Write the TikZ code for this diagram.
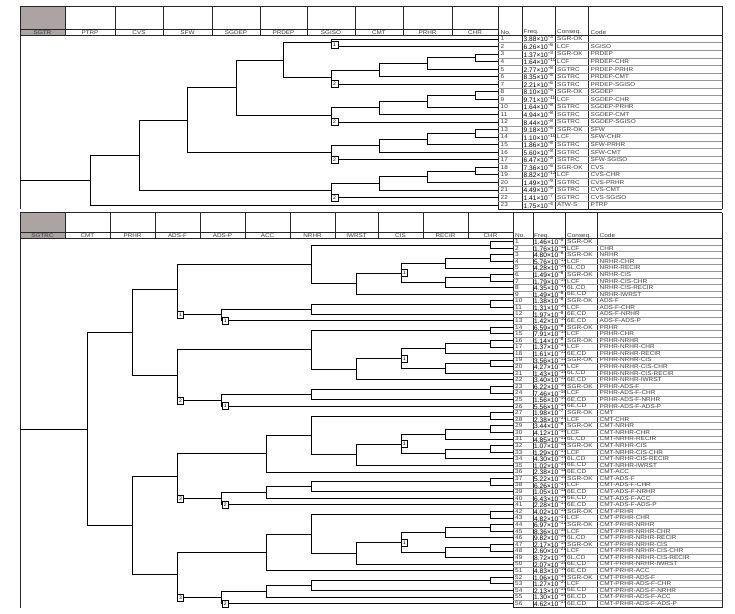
\documentclass[tikz,border=0pt]{standalone}
\usepackage{fontspec}
\setmainfont{Liberation Sans}
\newfontfamily\smf[FakeStretch=1.15]{Liberation Sans}
\definecolor{hdgrey}{RGB}{172,163,163}
\definecolor{labc}{RGB}{60,60,60}
\definecolor{rowc}{RGB}{150,150,150}
\newcommand\tbr[5]{\draw[tree] (#4,{ty(#2)}) -| (#1,{ty(#3)}) -- (#5,{ty(#3)});}
\newcommand\tsub[1]{%
 \tbr{331}{#1+2.125}{#1+4}{379}{498}%
 \tbr{379}{#1+1.25}{#1+3}{427.5}{498}%
 \tbr{427.5}{#1+0.5}{#1+2}{475}{498}%
 \tbr{475}{#1}{#1+1}{498}{498}%
 \node[tbox] (tb#1) at (334.5,{ty(#1+4)}) {2};}
\newcommand\bbr[5]{\draw[tree] (#4,{by(#2)}) -| (#1,{by(#3)}) -- (#5,{by(#3)});}
\newcommand\bchr[1]{\bbr{490.6}{#1}{#1+1}{513}{513}}
\newcommand\bnr[2]{%
 \bbr{356.2}{#1+2.75}{#1+6}{401}{513}%
 \bbr{401}{#1+1.25}{#1+4.25}{445.8}{445.8}%
 \bbr{445.8}{#1+0.5}{#1+2}{490.6}{513}%
 \bchr{#1}%
 \bbr{445.8}{#1+3.5}{#1+5}{490.6}{513}%
 \bchr{#1+3}%
 \node[tbox] (bxc#2) at (404.3,{by(#1+2.75)}) {1};}
\newcommand\bnrhr[1]{\bbr{311.3}{#1+0.5}{#1+6.375}{490.6}{356.2}\bchr{#1}\bnr{#1+2}{#1}}
\newcommand\bblkB[3]{%
 \bbr{176.9}{#1+3.4375}{#1+11.125}{311.3}{221.7}%
 \bnrhr{#1}%
 \bbr{221.7}{#1+10.25}{#1+12}{311.3}{513}%
 \bbr{311.3}{#1+9.5}{#1+11}{490.6}{513}%
 \bchr{#1+9}%
 \node[tbox] (bxf#1) at (180.4,{by(#1+11.125)}) {#2};
 \node[tbox] (bxp#1) at (225.2,{by(#1+12)}) {#3};}
\newcommand\bblkC[3]{%
 \bbr{176.9}{#1+6.21875}{#1+13.0625}{266.5}{221.7}%
 \bbr{266.5}{#1+3.4375}{#1+9}{311.3}{513}%
 \bnrhr{#1}%
 \bbr{221.7}{#1+12.125}{#1+14}{266.5}{513}%
 \bbr{266.5}{#1+11.25}{#1+13}{311.3}{513}%
 \bbr{311.3}{#1+10.5}{#1+12}{490.6}{513}%
 \bchr{#1+10}%
 \node[tbox] (bxf#1) at (180.4,{by(#1+13.0625)}) {#2};
 \node[tbox] (bxp#1) at (225.2,{by(#1+14)}) {#3};}
\newcommand\trow[5]{%
 \node[tx] (tn#1) at (500.5,{ty(#1)}) {#1};
 \node[fq] (tf#1) at (523.5,{ty(#1)}) {#2×10\textsuperscript{−#3}};
 \node[tx] (tc#1) at (557,{ty(#1)}) {#4};
 \node[tx] (td#1) at (590.5,{ty(#1)}) {#5};}
\newcommand\brow[5]{%
 \node[tx] (bn#1) at (515,{by(#1)}) {#1};
 \node[fq] (bf#1) at (534,{by(#1)}) {#2×10\textsuperscript{−#3}};
 \node[tx] (bc#1) at (567,{by(#1)}) {#4};
 \node[tx] (bd#1) at (599.5,{by(#1)}) {#5};}
\begin{document}
\begin{tikzpicture}[x=1pt,y=-1pt,
 declare function={ty(\k)=38.9+(\k-1)*7.55; by(\k)=241.6+(\k-1)*6.58;},
 tree/.style={line width=0.7pt,black},
 frame/.style={line width=0.6pt,black!85},
 rowline/.style={line width=0.4pt,rowc},
 lab/.style={font=\smf\fontsize{5.5}{6}\selectfont,inner sep=0pt,text=labc},
 tx/.style={font=\smf\fontsize{5.6}{6}\selectfont,inner sep=0pt,anchor=west,text=labc},
 fq/.style={font=\fontsize{6.6}{7}\selectfont,inner sep=0pt,anchor=west},
 tbox/.style={draw,line width=0.5pt,fill=white,minimum width=6.5pt,minimum height=7pt,inner sep=0pt,font=\fontsize{5}{5}\selectfont}]
\useasboundingbox (0,0) rectangle (735,613);
\fill[white] (0,0) rectangle (735,613);
% ================= TOP HEADER =================
\fill[hdgrey] (20,6) rectangle (65,35);
\draw[frame] (20,6) -- (722,6) (20,29) -- (498,29) (20,35) -- (722,35);
\foreach \xx in {20,65,115,163,212,260,307,355,403,452}{\draw[frame] (\xx,6) -- (\xx,35);}
\foreach \xx/\tt/\nm in {42.5/SGTR/h0,90/PTRP/h1,139/CVS/h2,187.5/SFW/h3,236/SGDEP/h4,283.5/PRDEP/h5,331/SGISO/h6,379/CMT/h7,427.5/PRHR/h8,475/CHR/h9}{\node[lab] (\nm) at (\xx,32.3) {\tt};}
% top table frame
\foreach \xx in {498,522,555,588,722}{\draw[frame] (\xx,6) -- (\xx,208.8);}
\foreach \k in {1,...,22}{\draw[rowline] (498,{ty(\k)+3.78}) -- (722,{ty(\k)+3.78});}
\draw[frame] (498,208.8) -- (722,208.8);
\draw[frame] (20,35) -- (20,208.8);
\node[tx] (thn) at (500.5,32.6) {No.};
\node[tx] (thf) at (523.5,32.6) {Freq.};
\node[tx] (thc) at (557,32.6) {Conseq.};
\node[tx] (thd) at (590.5,32.6) {Code};
% ================= TOP TREE =================
\coordinate (tinit) at (20,{ty(19.70117)});
\draw[tree] (tinit) -- (90,{ty(19.70117)});
\tbr{90}{16.40234}{23}{139}{498}
\tbr{139}{11.7421875}{21.0625}{187.5}{331}
\tbr{187.5}{7.421875}{16.0625}{236}{331}
\tbr{236}{3.78125}{11.0625}{283.5}{331}
\tbr{283.5}{1.5}{6.0625}{331}{331}
\tbr{331}{1}{2}{498}{498}
\node[tbox] (tb1) at (334.5,{ty(2)-1.5}) {1};
\tsub{3}\tsub{8}\tsub{13}\tsub{18}
% top rows
\trow{1}{3.88}{3}{SGR-OK}{}
\trow{2}{6.26}{6}{LCF}{SGISO}
\trow{3}{1.37}{3}{SGR-OK}{PRDEP}
\trow{4}{1.64}{10}{LCF}{PRDEP-CHR}
\trow{5}{2.77}{8}{SGTRC}{PRDEP-PRHR}
\trow{6}{8.35}{8}{SGTRC}{PRDEP-CMT}
\trow{7}{2.21}{6}{SGTRC}{PRDEP-SGISO}
\trow{8}{8.10}{5}{SGR-OK}{SGDEP}
\trow{9}{9.71}{11}{LCF}{SGDEP-CHR}
\trow{10}{1.64}{8}{SGTRC}{SGDEP-PRHR}
\trow{11}{4.94}{8}{SGTRC}{SGDEP-CMT}
\trow{12}{8.44}{8}{SGTRC}{SGDEP-SGISO}
\trow{13}{9.18}{5}{SGR-OK}{SFW}
\trow{14}{1.10}{10}{LCF}{SFW-CHR}
\trow{15}{1.86}{8}{SGTRC}{SFW-PRHR}
\trow{16}{5.60}{8}{SGTRC}{SFW-CMT}
\trow{17}{6.47}{8}{SGTRC}{SFW-SGISO}
\trow{18}{7.36}{6}{SGR-OK}{CVS}
\trow{19}{8.82}{12}{LCF}{CVS-CHR}
\trow{20}{1.49}{9}{SGTRC}{CVS-PRHR}
\trow{21}{4.49}{9}{SGTRC}{CVS-CMT}
\trow{22}{1.41}{7}{SGTRC}{CVS-SGISO}
\trow{23}{1.75}{4}{ATW-S}{PTRP}
% ================= BOTTOM HEADER =================
\fill[hdgrey] (20,212.5) rectangle (65,238.3);
\draw[frame] (20,212.5) -- (722,212.5) (20,232.3) -- (513,232.3) (20,238.3) -- (722,238.3);
\foreach \xx in {20,65,110,155,200,245,290,335,378,423,468}{\draw[frame] (\xx,212.5) -- (\xx,238.3);}
\foreach \xx/\tt/\nm in {42.5/SGTRC/g0,87.5/CMT/g1,132.5/PRHR/g2,177.5/ADS-F/g3,222.5/ADS-P/g4,267.5/ACC/g5,312.5/NRHR/g6,356.5/IWRST/g7,400.5/CIS/g8,445.5/RECIR/g9,490.5/CHR/g10}{\node[lab] (\nm) at (\xx,235.4) {\tt};}
\foreach \xx in {513,533,565,597,722}{\draw[frame] (\xx,212.5) -- (\xx,607.6);}
\foreach \k in {1,...,55}{\draw[rowline] (513,{by(\k)+3.29}) -- (722,{by(\k)+3.29});}
\draw[frame] (513,607.6) -- (722,607.6);
\draw[frame] (20,238.3) -- (20,607.6);
\node[tx] (bhn) at (515,235.7) {No.};
\node[tx] (bhf) at (534,235.7) {Freq.};
\node[tx] (bhc) at (567,235.7) {Conseq.};
\node[tx] (bhd) at (599.5,235.7) {Code};
% ================= BOTTOM TREE =================
\coordinate (binit) at (20,{by(29.4609)});
\draw[tree] (binit) -- (87.2,{by(29.4609)});
\bbr{87.2}{14.78125}{44.140625}{132}{132}
\bbr{132}{8.28125}{21.28125}{176.9}{176.9}
\bbr{132}{36.640625}{51.640625}{176.9}{176.9}
\bblkB{1}{1}{1}
\bblkB{14}{2}{1}
\bblkC{27}{3}{2}
\bblkC{42}{3}{2}
% bottom rows
\brow{1}{1.46}{5}{SGR-OK}{}
\brow{2}{1.76}{11}{LCF}{CHR}
\brow{3}{4.80}{8}{SGR-OK}{NRHR}
\brow{4}{5.76}{12}{LCF}{NRHR-CHR}
\brow{5}{4.28}{15}{6L,CD}{NRHR-RECIR}
\brow{6}{1.49}{8}{SGR-OK}{NRHR-CIS}
\brow{7}{1.79}{15}{LCF}{NRHR-CIS-CHR}
\brow{8}{4.35}{12}{6L,CD}{NRHR-CIS-RECIR}
\brow{9}{1.49}{8}{6E,CD}{NRHR-IWRST}
\brow{10}{1.38}{8}{SGR-OK}{ADS-F}
\brow{11}{1.31}{10}{LCF}{ADS-F-CHR}
\brow{12}{1.97}{8}{6E,CD}{ADS-F-NRHR}
\brow{13}{1.42}{10}{6E,CD}{ADS-F-ADS-P}
\brow{14}{6.59}{8}{SGR-OK}{PRHR}
\brow{15}{7.91}{14}{LCF}{PRHR-CHR}
\brow{16}{1.14}{8}{SGR-OK}{PRHR-NRHR}
\brow{17}{1.37}{14}{LCF}{PRHR-NRHR-CHR}
\brow{18}{1.61}{12}{6E,CD}{PRHR-NRHR-RECIR}
\brow{19}{3.56}{12}{SGR-OK}{PRHR-NRHR-CIS}
\brow{20}{4.27}{15}{LCF}{PRHR-NRHR-CIS-CHR}
\brow{21}{1.43}{15}{6L,CD}{PRHR-NRHR-CIS-RECIR}
\brow{22}{3.40}{12}{6E,CD}{PRHR-NRHR-IWRST}
\brow{23}{6.22}{10}{SGR-OK}{PRHR-ADS-F}
\brow{24}{7.46}{16}{LCF}{PRHR-ADS-F-CHR}
\brow{25}{1.56}{10}{6E,CD}{PRHR-ADS-F-NRHR}
\brow{26}{5.56}{14}{6E,CD}{PRHR-ADS-F-ADS-P}
\brow{27}{1.98}{7}{SGR-OK}{CMT}
\brow{28}{2.38}{13}{LCF}{CMT-CHR}
\brow{29}{3.44}{8}{SGR-OK}{CMT-NRHR}
\brow{30}{4.12}{14}{LCF}{CMT-NRHR-CHR}
\brow{31}{4.85}{12}{6L,CD}{CMT-NRHR-RECIR}
\brow{32}{1.07}{11}{SGR-OK}{CMT-NRHR-CIS}
\brow{33}{1.29}{17}{LCF}{CMT-NRHR-CIS-CHR}
\brow{34}{4.30}{15}{6L,CD}{CMT-NRHR-CIS-RECIR}
\brow{35}{1.02}{15}{6E,CD}{CMT-NRHR-IWRST}
\brow{36}{2.38}{11}{6E,CD}{CMT-ACC}
\brow{37}{5.22}{10}{SGR-OK}{CMT-ADS-F}
\brow{38}{6.26}{17}{LCF}{CMT-ADS-F-CHR}
\brow{39}{1.05}{11}{6E,CD}{CMT-ADS-F-NRHR}
\brow{40}{6.43}{16}{6E,CD}{CMT-ADS-F-ACC}
\brow{41}{2.28}{13}{6E,CD}{CMT-ADS-F-ADS-P}
\brow{42}{4.02}{11}{SGR-OK}{CMT-PRHR}
\brow{43}{4.82}{17}{LCF}{CMT-PRHR-CHR}
\brow{44}{6.97}{12}{SGR-OK}{CMT-PRHR-NRHR}
\brow{45}{8.36}{18}{LCF}{CMT-PRHR-NRHR-CHR}
\brow{46}{9.82}{16}{6L,CD}{CMT-PRHR-NRHR-RECIR}
\brow{47}{2.17}{15}{SGR-OK}{CMT-PRHR-NRHR-CIS}
\brow{48}{2.60}{21}{LCF}{CMT-PRHR-NRHR-CIS-CHR}
\brow{49}{8.72}{19}{6L,CD}{CMT-PRHR-NRHR-CIS-RECIR}
\brow{50}{2.07}{15}{6E,CD}{CMT-PRHR-NRHR-IWRST}
\brow{51}{4.83}{16}{6E,CD}{CMT-PRHR-ACC}
\brow{52}{1.06}{14}{SGR-OK}{CMT-PRHR-ADS-F}
\brow{53}{1.27}{20}{LCF}{CMT-PRHR-ADS-F-CHR}
\brow{54}{2.13}{15}{6E,CD}{CMT-PRHR-ADS-F-NRHR}
\brow{55}{1.30}{15}{6E,CD}{CMT-PRHR-ADS-F-ACC}
\brow{56}{4.62}{17}{6E,CD}{CMT-PRHR-ADS-F-ADS-P}
\end{tikzpicture}
\end{document}
